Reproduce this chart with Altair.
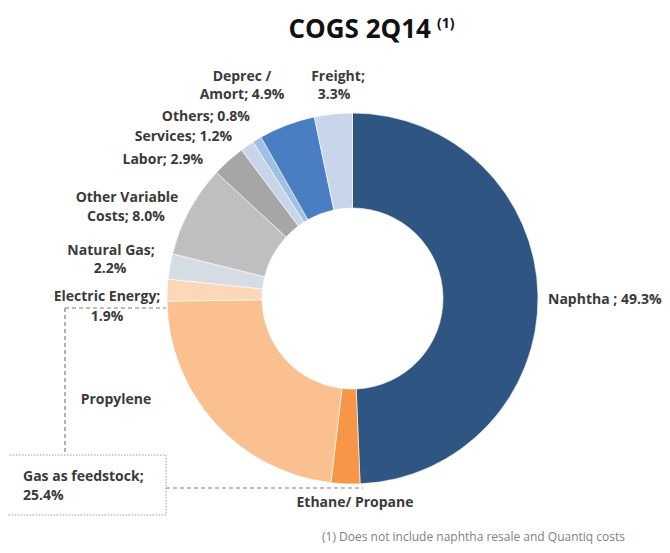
import altair as alt
import pandas as pd

# ---- data ----
categories = ["Naphtha", "Ethane/ Propane", "Propylene", "Electric Energy", "Natural Gas",
              "Other Variable Costs", "Labor", "Services", "Others", "Deprec / Amort", "Freight"]
shares = [49.3, 2.5, 22.9, 1.9, 2.2, 8.0, 2.9, 1.2, 0.8, 4.9, 3.3]
colors = ["#2F5583", "#F79646", "#FAC090", "#FCD7B8", "#D6DCE3",
          "#BFBFBF", "#A6A6A6", "#C8D5E8", "#9DC0E6", "#4A7EC2", "#C9D5EA"]

label_texts = ["Deprec /", "Amort; 4.9%", "Freight;", "3.3%", "Others; 0.8%", "Services; 1.2%",
               "Labor; 2.9%", "Other Variable", "Costs; 8.0%", "Natural Gas;", "2.2%",
               "Electric Energy;", "1.9%", "Naphtha ; 49.3%", "Propylene", "Gas as feedstock;",
               "25.4%", "Ethane/ Propane"]

# ---- layout (image pixel coordinates) ----
W, H = 654, 537
FONT = "Open Sans"
label_x = [242, 242, 338, 334, 250, 232, 203, 127, 126, 111, 110, 107, 107, 548, 116, 23, 23, 355]
label_y = [77, 95, 77, 95, 117, 137, 160, 198, 217, 251, 269, 297, 317, 300, 400, 477, 496, 503]
label_align = ["center", "center", "center", "center", "right", "right", "right", "center",
               "center", "center", "center", "center", "center", "left", "center", "left",
               "left", "center"]

df = pd.DataFrame({"cat": categories, "share": shares, "order": list(range(len(categories)))})
labels = pd.DataFrame({"t": label_texts, "x": label_x, "y": label_y, "al": label_align})

xs = alt.Scale(domain=[8, 8 + W])
ys = alt.Scale(domain=[8 + H, 8])

cx, cy = 352.5 - 8, 298.5 - 8

donut = alt.Chart(df).mark_arc(outerRadius=185.5, innerRadius=90.5, stroke="white",
                               strokeWidth=0.6).encode(
    theta=alt.Theta("share:Q", stack=True),
    order=alt.Order("order:Q"),
    color=alt.Color("cat:N", scale=alt.Scale(domain=categories, range=colors), legend=None),
    x=alt.value(cx), y=alt.value(cy),
)

text_layers = []
for al in ["left", "center", "right"]:
    sub = labels[labels["al"] == al]
    text_layers.append(
        alt.Chart(sub).mark_text(font=FONT, fontWeight="bold", fontSize=14, color="#3A3A3A",
                                 align=al, baseline="middle").encode(
            x=alt.X("x:Q", scale=xs, axis=None),
            y=alt.Y("y:Q", scale=ys, axis=None),
            text="t:N")
    )

# dashed connector lines
lines = pd.DataFrame({"x": [65, 65, 166], "y": [308, 308, 488],
                      "x2": [166, 65, 363], "y2": [308, 455, 488]})
rules = alt.Chart(lines).mark_rule(color="#7F7F7F", strokeDash=[4, 3], strokeWidth=1.2).encode(
    x=alt.X("x:Q", scale=xs, axis=None), y=alt.Y("y:Q", scale=ys, axis=None),
    x2="x2:Q", y2="y2:Q")

box = pd.DataFrame({"x": [7], "y": [455], "x2": [166], "y2": [515]})
boxm = alt.Chart(box).mark_rect(fill="white", fillOpacity=0, stroke="#9A9A9A",
                                strokeDash=[1.5, 1.5], strokeWidth=1).encode(
    x=alt.X("x:Q", scale=xs, axis=None), y=alt.Y("y:Q", scale=ys, axis=None),
    x2="x2:Q", y2="y2:Q")

title_df = pd.DataFrame({"t": ["COGS 2Q14"], "x": [431], "y": [30]})
title = alt.Chart(title_df).mark_text(font=FONT, fontWeight="bold", fontSize=26, color="#111111",
                                      align="right", baseline="middle").encode(
    x=alt.X("x:Q", scale=xs, axis=None), y=alt.Y("y:Q", scale=ys, axis=None), text="t:N")
sup_df = pd.DataFrame({"t": ["(1)"], "x": [437], "y": [24]})
sup = alt.Chart(sup_df).mark_text(font=FONT, fontWeight="bold", fontSize=14, color="#111111",
                                  align="left", baseline="middle").encode(
    x=alt.X("x:Q", scale=xs, axis=None), y=alt.Y("y:Q", scale=ys, axis=None), text="t:N")

foot_df = pd.DataFrame({"t": ["(1) Does not include naphtha resale  and Quantiq costs"],
                        "x": [625], "y": [537]})
foot = alt.Chart(foot_df).mark_text(font=FONT, fontSize=12, color="#7F7F7F",
                                    align="right", baseline="middle").encode(
    x=alt.X("x:Q", scale=xs, axis=None), y=alt.Y("y:Q", scale=ys, axis=None), text="t:N")

chart = alt.layer(boxm, rules, donut, *text_layers, title, sup, foot).properties(
    width=W, height=H, padding=0, autosize=alt.AutoSizeParams(type="none")
).configure_view(stroke=None)

chart.save("out.html", embed_options={"renderer": "svg", "actions": False})
